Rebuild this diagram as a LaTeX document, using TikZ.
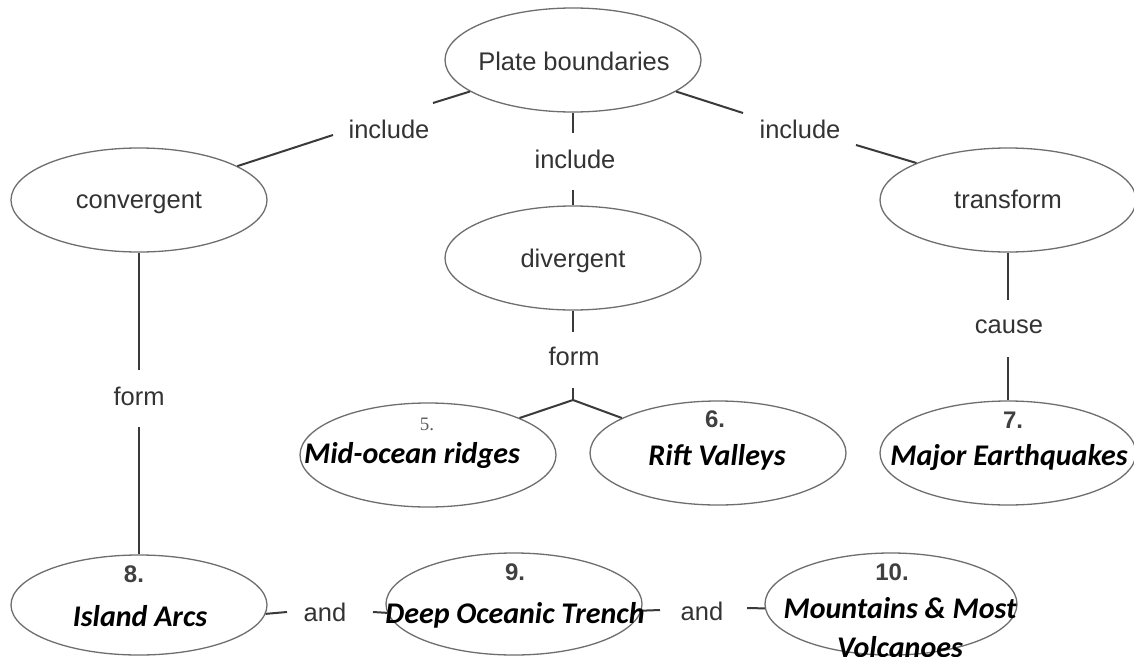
\documentclass[tikz,border=0pt]{standalone}
\usepackage{fontspec}
\setmainfont{Liberation Sans}
\newfontfamily\answerfont{Carlito}
\newfontfamily\numserif{Liberation Serif}
\usetikzlibrary{shapes.geometric}
\definecolor{ovalgray}{HTML}{6E6E6E}
\definecolor{linegray}{HTML}{3A3A3A}
\definecolor{labelgray}{HTML}{333333}
\definecolor{numgray}{HTML}{404040}
\tikzset{
  oval/.style={ellipse, draw=ovalgray, fill=white, line width=1.3pt, inner sep=0pt,
    minimum width=256pt, minimum height=104pt},
  lbl/.style={font=\fontsize{25.5}{30}\selectfont, text=labelgray, inner sep=0pt, anchor=base},
  ans/.style={font=\answerfont\bfseries\itshape\fontsize{30}{36}\selectfont, text=black, inner sep=0pt, anchor=base},
  num/.style={font=\bfseries\fontsize{24}{28}\selectfont, text=numgray, inner sep=0pt, anchor=base},
  conn/.style={draw=linegray, line width=2pt},
}
\begin{document}
\begin{tikzpicture}[x=1pt,y=-1pt]
\fill[white] (0,0) rectangle (1134,656);
\useasboundingbox (0,0) rectangle (1134,656);

% ellipses
\node[oval] (plate) at (573,60) {};
\node[oval] (conv)  at (139,200) {};
\node[oval] (div)   at (573,258) {};
\node[oval] (trans) at (1008,200) {};
\node[oval] (mid)   at (428,455) {};
\node[oval] (rift)  at (718,453) {};
\node[oval] (major) at (1008,453) {};
\node[oval, minimum height=100pt] (island) at (139,605) {};
\node[oval, minimum height=102pt] (deep)   at (514,604) {};
\node[oval, minimum height=102pt, minimum width=252pt] (mount) at (891,604) {};

% connector label texts
\node[lbl] (inc1) at (389,138) {include};
\node[lbl] (inc2) at (575,168) {include};
\node[lbl] (inc3) at (800,138) {include};
\node[lbl] (form1) at (139,405) {form};
\node[lbl] (form2) at (574,365) {form};
\node[lbl] (cause) at (1009,333) {cause};
\node[lbl] (and1) at (325,621) {and};
\node[lbl] (and2) at (702,620) {and};

% connector end coordinates
\coordinate (i1a) at (433,103);
\coordinate (i1b) at (333,135);
\coordinate (i2a) at (573,133);
\coordinate (i2b) at (573,190);
\coordinate (i3a) at (743,113);
\coordinate (i3b) at (856,145);
\coordinate (f1a) at (139,370);
\coordinate (f1b) at (139,427);
\coordinate (f2a) at (573,332);
\coordinate (f2b) at (573,388);
\coordinate (junc) at (573,400);
\coordinate (c1a) at (1008,300);
\coordinate (c1b) at (1008,357);
\coordinate (a1a) at (287,612);
\coordinate (a1b) at (373,612);
\coordinate (a2a) at (660,610);
\coordinate (a2b) at (747,608);

% connectors
\draw[conn] (plate.197) -- (i1a);
\draw[conn] (i1b) -- (conv.19);
\draw[conn] (plate.south) -- (i2a);
\draw[conn] (i2b) -- (div.north);
\draw[conn] (plate.343) -- (i3a);
\draw[conn] (i3b) -- (trans.158);
\draw[conn] (conv.south) -- (f1a);
\draw[conn] (f1b) -- (island.north);
\draw[conn] (div.south) -- (f2a);
\draw[conn] (f2b) -- (junc);
\draw[conn] (junc) -- (mid.22);
\draw[conn] (junc) -- (rift.160);
\draw[conn] (trans.south) -- (c1a);
\draw[conn] (c1b) -- (major.north);
\draw[conn] (island.-4) -- (a1a);
\draw[conn] (a1b) -- (deep.184);
\draw[conn] (deep.-3) -- (a2a);
\draw[conn] (a2b) -- (mount.182);

% ellipse texts
\node[lbl] (tplate) at (574,70) {Plate boundaries};
\node[lbl] (tconv)  at (139,208) {convergent};
\node[lbl] (tdiv)   at (573,267) {divergent};
\node[lbl] (ttrans) at (1008,208) {transform};

\node[font=\numserif\fontsize{19}{22}\selectfont, text=numgray!85, inner sep=0pt, anchor=base] (n5) at (427,430) {5.};
\node[num] (n6) at (715,427) {6.};
\node[num] (n7) at (1013,428) {7.};
\node[num] (n8) at (134,582) {8.};
\node[num] (n9) at (515,580) {9.};
\node[num] (n10) at (892,580) {10.};

\node[ans] (tmid)   at (412,463) {Mid-ocean ridges};
\node[ans] (trift)  at (717,465) {Rift Valleys};
\node[ans] (tmajor) at (1009,465) {Major Earthquakes};
\node[ans] (tisland) at (140,626) {Island Arcs};
\node[ans] (tdeep)  at (515,623) {Deep Oceanic Trench};
\node[ans] (tmount1) at (900,618) {Mountains \& Most};
\node[ans] (tmount2) at (900,657) {Volcanoes};
\end{tikzpicture}
\end{document}
